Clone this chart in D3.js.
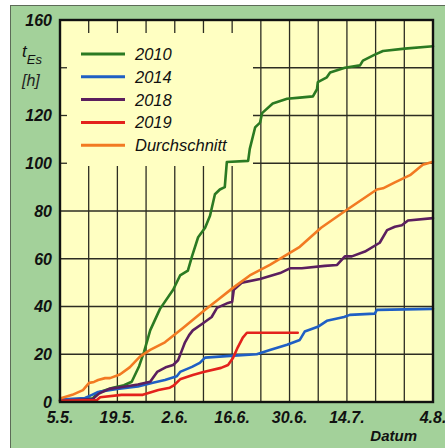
<!DOCTYPE html>
<html>
<head>
<meta charset="utf-8">
<script src="https://cdn.jsdelivr.net/npm/d3@7"></script>
<style>
  html, body { margin: 0; padding: 0; background: #fff; }
  svg { display: block; }
  text { font-family: "Liberation Sans", Arial, sans-serif; font-style: italic; }
</style>
</head>
<body>
<svg id="chart" width="445" height="448"></svg>
<script>
// Days counted from 5 May; values are the Es opening time in hours.
const tickDays   = [0, 14, 28, 42, 56, 70, 91];
const tickLabels = ["5.5.", "19.5.", "2.6.", "16.6.", "30.6.", "14.7.", "4.8."];
const yTicks     = [0, 20, 40, 60, 80, 100, 120, 140, 160];
const yLabelled  = [0, 20, 40, 60, 80, 100, 120, 160];

const seriesNames = ["2010", "2014", "2018", "2019", "Durchschnitt"];

const days2010   = [0, 8, 9.3, 12.9, 15.6, 17.5, 19.3, 20.5, 21.5, 22, 24.4, 27.6, 29.3, 31.2, 32.2, 33.7, 35.4, 36.6, 37.8, 39, 40.2, 40.7, 45.9, 46.3, 47.6, 48.8, 49.3, 51.9, 55.4, 58.5, 61.7, 62.7, 62.9, 65.1, 65.9, 69.5, 73.2, 73.9, 76.8, 78.8, 84.1, 91];
const values2010 = [0.5, 1.5, 4, 6, 7, 8.5, 15, 21, 27, 30, 39, 47, 53, 55, 61, 69, 73, 78, 87, 89, 90, 100.5, 101, 106, 115, 117, 121, 125, 127, 127.5, 128, 131, 134, 136, 138, 140, 141, 143, 145.5, 147, 148, 149];

const days2014   = [0, 6.1, 7.8, 9.3, 14, 19, 22.4, 25.6, 28.5, 29.3, 32.2, 34.1, 35.4, 41.5, 48, 51.2, 55.4, 58.5, 59.7, 62.9, 65.1, 69.3, 70.7, 76.8, 77.3, 91];
const values2014 = [1, 1.7, 3, 4.2, 5.5, 6.5, 8, 9.2, 10.8, 12.6, 14.7, 16.4, 18.6, 19.3, 20, 21.8, 24, 26, 29.5, 31.5, 34, 35.6, 36.5, 37, 38.6, 39];

const days2018   = [0, 8, 9.5, 12, 16, 19, 22, 23.7, 26, 27.6, 28.8, 29.6, 30.5, 31.5, 32.4, 34.9, 37, 38.3, 41, 42, 42.4, 44.4, 48.8, 53.7, 56.1, 59, 64.6, 67.6, 69.5, 71.2, 74.4, 78, 79.8, 81.7, 83.4, 84.9, 91];
const values2018 = [0.5, 1.2, 3.5, 5.5, 6.5, 7.3, 8.5, 12.6, 14.7, 15.5, 17.5, 21, 25, 28, 30, 33, 35.6, 39.4, 41.5, 42, 47, 50, 51.5, 54, 56, 56, 57, 57.4, 61, 61, 63, 66.7, 72, 73.4, 74, 76, 77];

const days2019   = [0, 9, 9.8, 15, 20.2, 22.4, 24, 26.8, 27.8, 29.3, 32.4, 35, 39.3, 41, 42.2, 43.4, 44.6, 45.6, 58];
const values2019 = [0.5, 0.8, 2, 3, 3, 4.2, 5, 6, 7, 9.5, 11.3, 12.6, 14.3, 15.5, 18.4, 23, 27, 29, 29];

const daysAvg    = [0, 3, 5.6, 7.1, 8.3, 9.3, 11, 12.2, 14.6, 17, 19.5, 22, 25.6, 30, 35.4, 38.3, 42.2, 46.3, 51.2, 58.5, 63.7, 70, 77.3, 78.8, 81.7, 85.4, 88.5, 91];
const valuesAvg  = [1.5, 3, 5, 8, 8.4, 9.2, 10, 10, 11.5, 14.5, 19, 21.8, 25, 31, 38.6, 42.5, 47.8, 53, 57.4, 65, 73, 80.5, 89, 89.5, 92, 95, 99.4, 100.6];

const seriesColors = ["#2b7a22", "#1f5fc4", "#5b1f5e", "#e3221c", "#f27a22"];

const series = [
  [days2010, values2010],
  [days2014, values2014],
  [days2018, values2018],
  [days2019, values2019],
  [daysAvg, valuesAvg]
].map(([d, v], i) => ({
  name: seriesNames[i],
  color: seriesColors[i],
  points: d.map((day, k) => [day, v[k]])
}));

const svg = d3.select("#chart");
const W = 445, H = 448;
const plotLeft = 60, plotRight = 433, plotTop = 20, plotBottom = 402;

const x = d3.scaleLinear().domain([0, 91]).range([plotLeft, plotRight]);
const y = d3.scaleLinear().domain([0, 160]).range([plotBottom, plotTop]);

// outer panel
svg.append("rect").attr("width", W).attr("height", H).attr("fill", "#ffffff");
svg.append("rect")
  .attr("x", 10.5).attr("y", 5.5).attr("width", 460).attr("height", 460)
  .attr("fill", "#a3d19a").attr("stroke", "#5d6b58").attr("stroke-width", 1);

// plot background
svg.append("rect")
  .attr("x", plotLeft).attr("y", plotTop).attr("width", plotRight - plotLeft).attr("height", plotBottom - plotTop)
  .attr("fill", "#ffffc2");

// grid
const gridColor = "#2d2d22";
const weekDays = d3.range(7, 91, 7);
svg.append("g").selectAll("line").data(weekDays).join("line")
  .attr("x1", d => x(d)).attr("x2", d => x(d))
  .attr("y1", plotTop).attr("y2", plotBottom)
  .attr("stroke", gridColor).attr("stroke-width", 1.3);
svg.append("g").selectAll("line").data(yTicks.filter(v => v > 0 && v < 160)).join("line")
  .attr("x1", plotLeft).attr("x2", plotRight)
  .attr("y1", d => y(d)).attr("y2", d => y(d))
  .attr("stroke", gridColor).attr("stroke-width", 1.3);

// legend area is kept clear of the grid
const legendRight = 253, legendBottom = 166;
svg.append("rect")
  .attr("x", plotLeft).attr("y", plotTop).attr("width", legendRight - plotLeft).attr("height", legendBottom - plotTop)
  .attr("fill", "#ffffc2");

// short ticks on the edges of the legend area
svg.append("g").selectAll("line").data(weekDays.filter(d => x(d) < legendRight)).join("line")
  .attr("x1", d => x(d)).attr("x2", d => x(d))
  .attr("y1", plotTop).attr("y2", plotTop + 13)
  .attr("stroke", gridColor).attr("stroke-width", 1.3);
svg.append("g").selectAll("line").data([100, 120, 140]).join("line")
  .attr("x1", plotLeft).attr("x2", plotLeft + 7)
  .attr("y1", d => y(d)).attr("y2", d => y(d))
  .attr("stroke", gridColor).attr("stroke-width", 1.3);

// data lines
const line = d3.line().x(d => x(d[0])).y(d => y(d[1]));
svg.append("g").selectAll("path").data(series).join("path")
  .attr("d", d => line(d.points))
  .attr("fill", "none")
  .attr("stroke", d => d.color)
  .attr("stroke-width", 2.6)
  .attr("stroke-linejoin", "round")
  .attr("stroke-linecap", "round");

// plot frame
svg.append("rect")
  .attr("x", plotLeft).attr("y", plotTop).attr("width", plotRight - plotLeft).attr("height", plotBottom - plotTop)
  .attr("fill", "none").attr("stroke", "#111").attr("stroke-width", 2.4);

// y tick labels (140 is left free for the axis title)
svg.append("g").selectAll("text").data(yLabelled).join("text")
  .attr("x", 52).attr("y", d => y(d))
  .attr("dy", "0.36em")
  .attr("text-anchor", "end")
  .attr("font-size", 16).attr("font-weight", "bold").attr("fill", "#111")
  .text(d => d);

// x tick labels
svg.append("g").selectAll("text").data(tickDays).join("text")
  .attr("x", d => x(d)).attr("y", 423)
  .attr("text-anchor", "middle")
  .attr("font-size", 16).attr("font-weight", "bold").attr("fill", "#111")
  .text((d, i) => tickLabels[i]);

// axis titles
svg.append("text").attr("x", 417).attr("y", 441).attr("text-anchor", "end")
  .attr("font-size", 15).attr("font-weight", "bold").attr("fill", "#111").text("Datum");

const yt = svg.append("text").attr("x", 22).attr("y", 57).attr("font-size", 17).attr("fill", "#111");
yt.append("tspan").text("t");
yt.append("tspan").attr("font-size", 13).attr("dy", 7).text("Es");
svg.append("text").attr("x", 22).attr("y", 86).attr("font-size", 16).attr("fill", "#222").text("[h]");

// legend
const legend = svg.append("g").selectAll("g").data(series).join("g")
  .attr("transform", (d, i) => `translate(0, ${54 + i * 22.8})`);
legend.append("line")
  .attr("x1", 81).attr("x2", 125).attr("y1", 0).attr("y2", 0)
  .attr("stroke", d => d.color).attr("stroke-width", 3);
legend.append("text")
  .attr("x", 135).attr("y", 0).attr("dy", "0.36em")
  .attr("font-size", 16.5).attr("fill", "#111")
  .text(d => d.name);
</script>
</body>
</html>
